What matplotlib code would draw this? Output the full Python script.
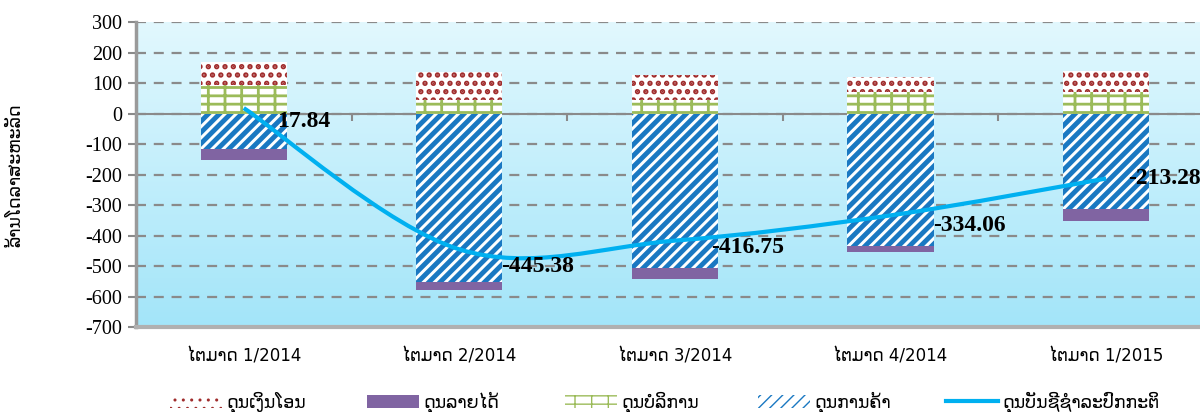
import numpy as np
import matplotlib.pyplot as plt
from matplotlib.path import Path
from matplotlib.patches import PathPatch
from matplotlib.lines import Line2D
from matplotlib.colors import LinearSegmentedColormap

plt.rcParams['font.family'] = ['DejaVu Sans']
plt.rcParams['axes.unicode_minus'] = False

# data (million USD)
quarters = ["ໄຕມາດ 1/2014", "ໄຕມາດ 2/2014", "ໄຕມາດ 3/2014", "ໄຕມາດ 4/2014", "ໄຕມາດ 1/2015"]
services = [95, 44, 44, 72, 72]
transfers = [75, 91, 82, 49, 68]
trade = [-117, -554, -505, -433, -312]
income = [-35, -25, -38, -22, -42]
current = [17.84, -445.38, -416.75, -334.06, -213.28]

lbl_transfers = "ດຸນເງິນໂອນ"
lbl_income = "ດຸນລາຍໄດ້"
lbl_services = "ດຸນບໍລິການ"
lbl_trade = "ດຸນການຄ້າ"
lbl_current = "ດຸນບັນຊີຊຳລະປົກກະຕິ"
ylabel = "ລ້ານໂດລາສະຫະລັດ"

c_red = "#a02c2c"
c_purple = "#8064a2"
c_green = "#9bbb59"
c_blue = "#1a78c2"
c_line = "#00b0f0"

fig = plt.figure(figsize=(12, 4.12), dpi=100)
ax = fig.add_axes([0.1133, 0.2063, 0.8983, 0.7403])

x = np.arange(len(quarters))
w = 0.40

# gradient background
cmap = LinearSegmentedColormap.from_list("bg", ["#a3e5f9", "#e2f8fe"])
grad = np.linspace(0, 1, 256).reshape(-1, 1)
ax.imshow(grad, cmap=cmap, aspect="auto", extent=[0, 1, 0, 1],
          transform=ax.transAxes, origin="lower", zorder=-5)


def hatched_bar(vals, bottom, hatch, color, lw):
    with plt.rc_context({"hatch.linewidth": lw}):
        bc = ax.bar(x, vals, w, bottom=bottom, facecolor="white",
                    edgecolor=color, linewidth=0, hatch=hatch, zorder=3)
    for p in bc:
        if hasattr(p, "set_hatch_linewidth"):
            p.set_hatch_linewidth(lw)
    return bc


b_serv = hatched_bar(services, 0, "--|", c_green, 2.0)
b_tran = hatched_bar(transfers, services, "..", c_red, 2.6)
b_trade = hatched_bar(trade, 0, "///", c_blue, 3.5)
b_inc = ax.bar(x, income, w, bottom=trade, color=c_purple, linewidth=0, zorder=3)

# smoothed line (Excel-style bezier through the points)
pts = np.column_stack([x, current]).astype(float)
n = len(pts)
verts = [pts[0]]
codes = [Path.MOVETO]
for i in range(n - 1):
    p0 = pts[i - 1] if i > 0 else pts[i]
    p3 = pts[i + 2] if i + 2 < n else pts[i + 1]
    c1 = pts[i] + (pts[i + 1] - p0) / 6
    c2 = pts[i + 1] - (p3 - pts[i]) / 6
    verts += [c1, c2, pts[i + 1]]
    codes += [Path.CURVE4] * 3
ax.add_patch(PathPatch(Path(verts, codes), facecolor="none", edgecolor=c_line,
                       linewidth=3, capstyle="butt", zorder=5))

label_offsets = [(24, -10), (30, -12), (26, -5), (31, -7), (16, 0)]
for xi, v, off in zip(x, current, label_offsets):
    ax.annotate(f"{v:.2f}", (xi, v), xytext=off, textcoords="offset points",
                ha="left", va="center", fontsize=17, fontweight="bold",
                family="Liberation Serif", zorder=6)

ax.set_xlim(-0.5, len(quarters) - 0.5)
ax.set_ylim(-700, 300)
ax.set_yticks(np.arange(-700, 301, 100))
ax.set_axisbelow(True)
ax.yaxis.grid(True, color="#8a8a8a", linestyle=(0, (4.5, 3.5)), linewidth=1.6)
ax.tick_params(axis="y", length=6, width=1.5, color="#8a8a8a", pad=4,
               labelsize=14.5)
for t in ax.get_yticklabels():
    t.set_family("Liberation Serif")
ax.set_xticks(x)
ax.set_xticklabels(quarters, fontsize=12)
ax.tick_params(axis="x", length=0, pad=15)

for s in ["top", "right"]:
    ax.spines[s].set_visible(False)
ax.spines["left"].set_color("#9a9a9a")
ax.spines["left"].set_linewidth(2.5)
ax.spines["bottom"].set_color("#b0b0b0")
ax.spines["bottom"].set_linewidth(3)

# zero axis line with category tick marks
secax = ax.secondary_xaxis(0, transform=ax.transData)
secax.set_xticks(x[:-1] + 0.5)
secax.set_xticklabels([])
secax.tick_params(length=5, width=1.5, color="#8a8a8a", direction="out")
secax.spines["bottom"].set_color("#8a8a8a")
secax.spines["bottom"].set_linewidth(1.5)

fig.text(15 / 1200, 0.575, ylabel, rotation=90, ha="center", va="center",
         fontsize=12.5)

# legend entries spread evenly along the bottom
line_handle = Line2D([], [], color=c_line, linewidth=3)
entries = [(b_tran, lbl_transfers), (b_inc, lbl_income), (b_serv, lbl_services),
           (b_trade, lbl_trade), (line_handle, lbl_current)]
legend_x = [170, 367, 565, 758, 946]
for (h, l), lx in zip(entries, legend_x):
    fig.legend([h], [l], loc="center left", bbox_to_anchor=(lx / 1200, 0.022),
               frameon=False, fontsize=12.5, handlelength=3.0, handleheight=0.85,
               handletextpad=0.25, borderpad=0, borderaxespad=0)

fig.savefig("out.png", dpi=100)
